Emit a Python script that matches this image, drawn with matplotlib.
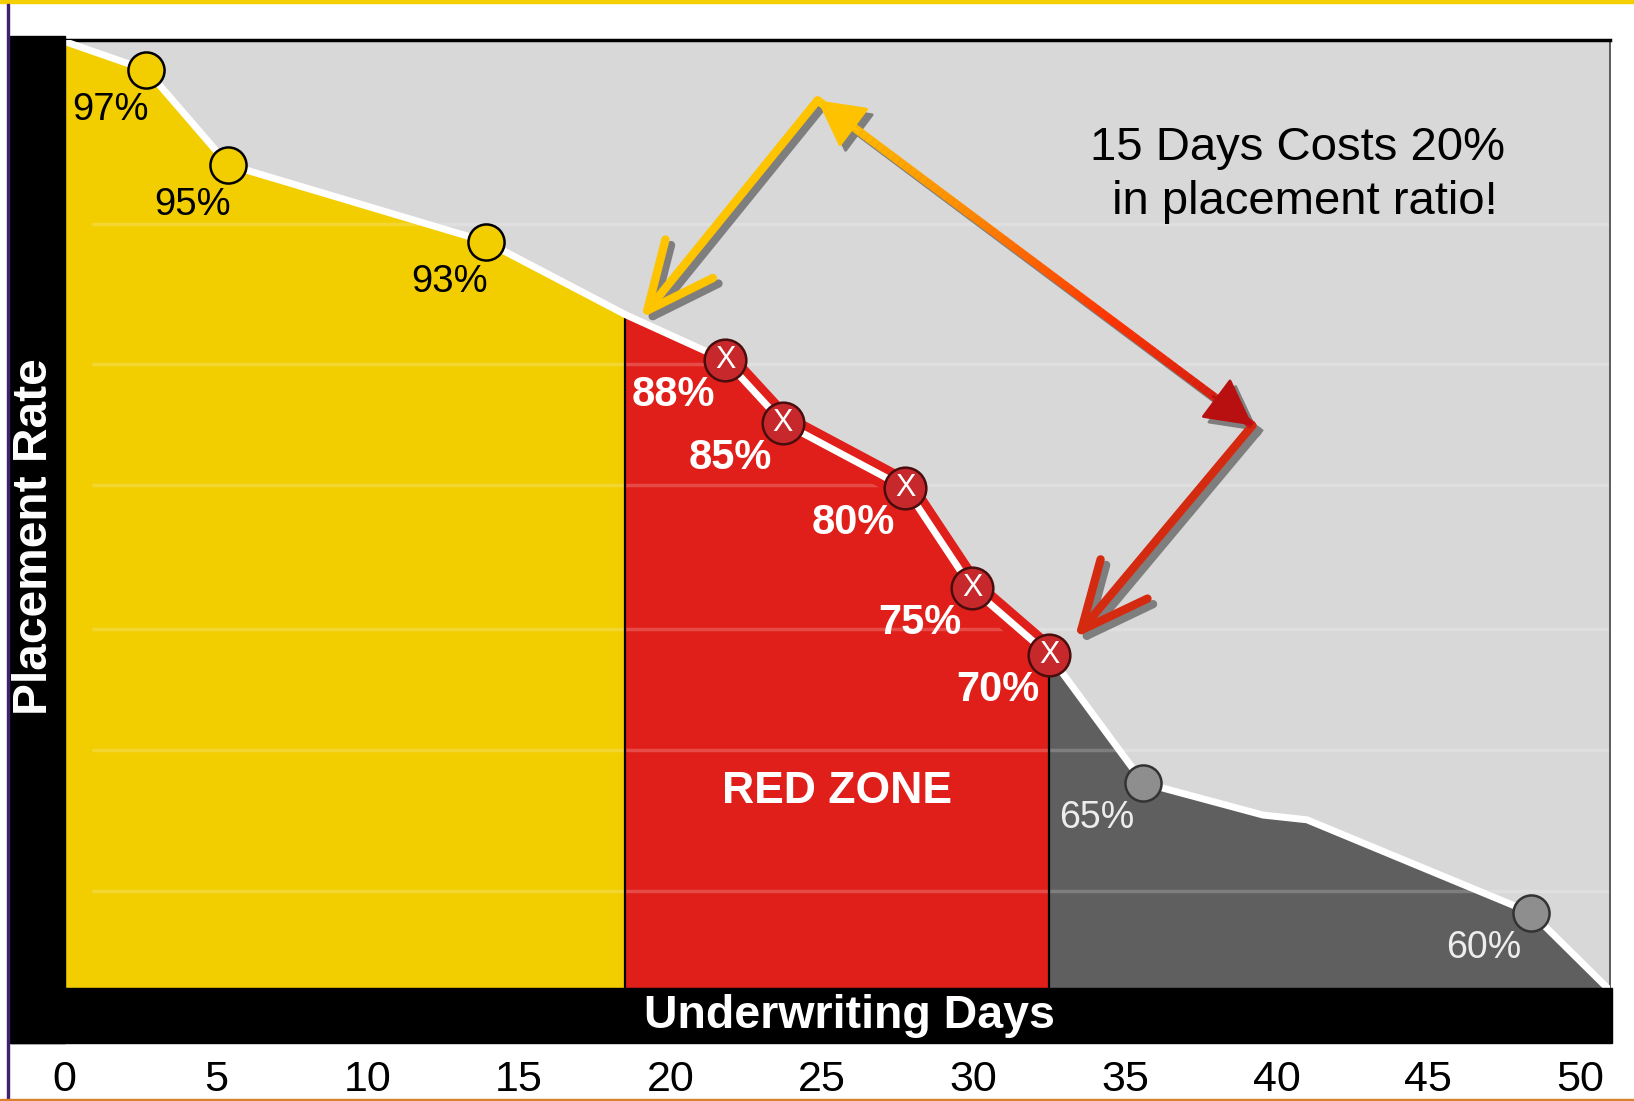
import matplotlib
matplotlib.use('Agg')
import matplotlib.pyplot as plt
import matplotlib.transforms as mtransforms
from matplotlib.patches import Rectangle
from matplotlib.collections import LineCollection
from matplotlib.colors import LinearSegmentedColormap
import numpy as np

plt.rcParams['font.family'] = ['Liberation Sans', 'DejaVu Sans']

# placement curve: x = underwriting days, y = height on the chart's own scale
days = [0, 2.7, 5.4, 13.9, 18.5, 21.8, 23.7, 27.75, 29.95, 32.5, 35.6, 39.55, 41.0, 48.4, 50.9]
rate = [99.8, 96.8, 86.8, 78.7, 71.0, 66.2, 59.6, 52.7, 42.1, 35.05, 21.6, 18.2, 17.7, 7.9, 0.0]
labels = ['', '97%', '95%', '93%', '', '88%', '85%', '80%', '75%', '70%', '65%', '', '', '60%', '']

red_start = 18.5
red_end = 32.5

tick_days = [0, 5, 10, 15, 20, 25, 30, 35, 40, 45, 50]
grid_levels = [80.5, 65.8, 53.0, 37.8, 25.05, 10.2]

# arrow end points (annotation, in chart units)
apex = (24.85, 93.6)
yellow_tip = (19.02, 70.6)
grad_tip = (39.2, 59.3)
red_tip = (33.34, 36.9)

YELLOW = '#F2CD00'
RED = '#E01F1A'
DGRAY = '#5F5F5F'
LGRAY = '#D8D8D8'
SHADOW = '#7E7E7E'

W, H = 1634, 1101


def fx(px):
    return px / W


def fy(py):
    return 1 - py / H


fig = plt.figure(figsize=(W / 100, H / 100), dpi=100)
fig.patch.set_facecolor('white')

ax = fig.add_axes([fx(64.6), fy(987.6), fx(1610) - fx(64.6), fy(39.6) - fy(987.6)])
ax.set_xlim(0, 51)
ax.set_ylim(0, 100)
ax.set_facecolor(LGRAY)
ax.set_xticks([])
ax.set_yticks([])
for s in ['left', 'bottom']:
    ax.spines[s].set_visible(False)
ax.spines['top'].set_linewidth(2.5)
ax.spines['right'].set_color('#444444')
ax.spines['right'].set_linewidth(1.2)

d = np.array(days)
r = np.array(rate)

ax.fill_between(d, r, where=d <= red_start, color=YELLOW, lw=0, zorder=1)
ax.fill_between(d, r, where=(d >= red_start) & (d <= red_end), color=RED, lw=0, zorder=1)
ax.fill_between(d, r, where=d >= red_end, color=DGRAY, lw=0, zorder=1)

ax.hlines(grid_levels, 0.9, 51, color='white', alpha=0.2, lw=2.5, zorder=1.5)

ax.vlines([red_start, red_end], 0, [np.interp(red_start, d, r), np.interp(red_end, d, r)],
          color='black', lw=1.6, zorder=2)

# red rim around the line inside the red zone
rim = (d >= 21.8) & (d <= red_end)
ax.plot(d[rim], r[rim], color=RED, lw=17, solid_joinstyle='round', solid_capstyle='butt', zorder=2.5)

ax.plot(d, r, color='white', lw=5, solid_joinstyle='round', zorder=3)

for x, y, lab in zip(days, rate, labels):
    if not lab:
        continue
    if x < red_start:
        ax.plot(x, y, 'o', ms=26, mfc=YELLOW, mec='black', mew=1.8, zorder=4)
        ax.annotate(lab, (x, y), xytext=(-36, -40), textcoords='offset pixels', ha='center',
                    va='center', fontsize=27.5, color='black', zorder=5)
    elif x <= red_end:
        ax.plot(x, y, 'o', ms=30, mfc='#C6282B', mec='#4A0D0D', mew=1.8, zorder=4)
        ax.text(x, y, 'X', color='white', fontsize=22, ha='center', va='center', zorder=5)
        ax.annotate(lab, (x, y), xytext=(-52, -35), textcoords='offset pixels', ha='center',
                    va='center', fontsize=30, color='white', weight='bold', zorder=5)
    else:
        ax.plot(x, y, 'o', ms=26, mfc='#8E8E8E', mec='#333333', mew=1.8, zorder=4)
        ax.annotate(lab, (x, y), xytext=(-47, -35), textcoords='offset pixels', ha='center',
                    va='center', fontsize=27, color='#EDEDED', zorder=5)

ax.text((red_start + red_end) / 2, 20.7, 'RED ZONE', color='white', weight='bold',
        fontsize=32, ha='center', va='center', zorder=5)

ax.text(40.7, 85.7, '15 Days Costs 20%\n in placement ratio!', ha='center', va='center',
        fontsize=34, linespacing=1.3, color='black', zorder=7)

# arrows with drop shadows
shadow = mtransforms.offset_copy(ax.transData, fig=fig, x=4, y=-4, units='points')


def chevron(tip, tail, color, tr, z):
    ax.annotate('', xy=tip, xytext=tail, xycoords=tr, textcoords=tr,
                arrowprops=dict(arrowstyle='->,head_length=2.4,head_width=1.1', lw=6,
                                color=color, mutation_scale=20, shrinkA=0, shrinkB=0,
                                joinstyle='round', capstyle='round'),
                zorder=z)


def filled_head(tip, other, color, tr, z):
    back = (tip[0] + (other[0] - tip[0]) * 0.09, tip[1] + (other[1] - tip[1]) * 0.09)
    ax.annotate('', xy=tip, xytext=back, xycoords=tr, textcoords=tr,
                arrowprops=dict(arrowstyle='-|>,head_length=1.5,head_width=0.8', lw=2,
                                color=color, mutation_scale=20, shrinkA=0, shrinkB=0),
                zorder=z)


# shadows first
chevron(yellow_tip, apex, SHADOW, shadow, 5.5)
chevron(red_tip, grad_tip, SHADOW, shadow, 5.5)
ax.plot([apex[0], grad_tip[0]], [apex[1], grad_tip[1]], color=SHADOW, lw=6,
        transform=shadow, zorder=5.5)
filled_head(apex, grad_tip, SHADOW, shadow, 5.5)
filled_head(grad_tip, apex, SHADOW, shadow, 5.5)

chevron(yellow_tip, apex, '#FFC400', ax.transData, 6)
chevron(red_tip, grad_tip, '#D42A10', ax.transData, 6)

cmap = LinearSegmentedColormap.from_list('grad', ['#FFC800', '#FF8A00', '#FF3300', '#C81414'])
t = np.linspace(0, 1, 81)
gx = apex[0] + (grad_tip[0] - apex[0]) * t
gy = apex[1] + (grad_tip[1] - apex[1]) * t
segs = np.stack([np.column_stack([gx[:-1], gy[:-1]]), np.column_stack([gx[1:], gy[1:]])], axis=1)
ax.add_collection(LineCollection(segs, colors=cmap(t[:-1]), linewidths=6, zorder=6))
filled_head(apex, grad_tip, '#FFC200', ax.transData, 6.5)
filled_head(grad_tip, apex, '#B81010', ax.transData, 6.5)

# black frame bands and axis titles
fig.add_artist(Rectangle((fx(10), fy(1043)), fx(65) - fx(10), fy(36) - fy(1043),
                         transform=fig.transFigure, color='black', zorder=1))
fig.add_artist(Rectangle((fx(10), fy(1043)), fx(1612) - fx(10), fy(988) - fy(1043),
                         transform=fig.transFigure, color='black', zorder=1))
fig.text(fx(34.4), fy(536.5), 'Placement Rate', rotation=90, color='white', weight='bold',
         fontsize=34.5, ha='center', va='center', zorder=3)
fig.text(fx(849), fy(1015.6), 'Underwriting Days', color='white', weight='bold',
         fontsize=33.5, ha='center', va='center', zorder=3)

for v in tick_days:
    ax.text(v, -0.0975, str(v), transform=ax.get_xaxis_transform(), ha='center', va='center',
            fontsize=31, color='black', clip_on=False)

# thin image borders
fig.add_artist(Rectangle((0, fy(3)), 1, 3 / H, transform=fig.transFigure, color='#F5D000', zorder=2))
fig.add_artist(Rectangle((fx(7), 0), 2 / W, fy(4), transform=fig.transFigure, color='#402070', zorder=2))
fig.add_artist(Rectangle((0, 0), 1, 2 / H, transform=fig.transFigure, color='#D9822B', zorder=2))

fig.savefig('out.png', dpi=100)
